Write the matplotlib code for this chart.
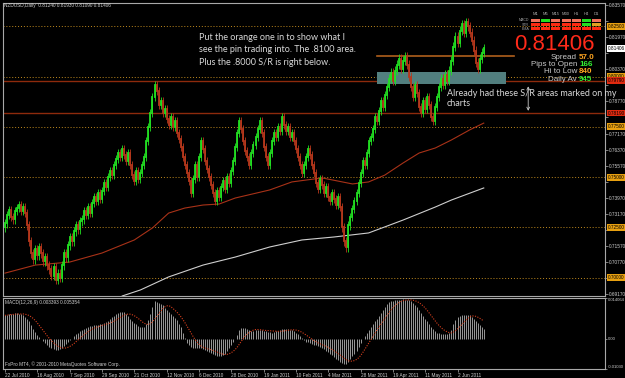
import numpy as np
import pandas as pd
import matplotlib
matplotlib.use("Agg")
import matplotlib.pyplot as plt
from matplotlib import font_manager
from matplotlib.patches import Rectangle
from matplotlib.transforms import blended_transform_factory

plt.rcParams['font.family'] = ['Liberation Sans', 'DejaVu Sans']

# ---------------- data ----------------
symbol_header = "NZDUSD,Daily  0.81240 0.81930 0.81090 0.81406"
first_open = 0.7250
closes = [
    0.7270, 0.7310, 0.7335, 0.7300, 0.7290, 0.7330, 0.7345, 0.7360, 0.7330, 0.7350, 0.7320,
    0.7260, 0.7180, 0.7120, 0.7090, 0.7140,
    0.7110, 0.7150, 0.7120, 0.7080, 0.7100,
    0.7060, 0.7040, 0.7010, 0.7050, 0.6990, 0.7020, 0.7000,
    0.7060, 0.7120, 0.7100, 0.7160, 0.7200, 0.7180, 0.7230, 0.7260, 0.7240, 0.7280,
    0.7290, 0.7330, 0.7310, 0.7350, 0.7320, 0.7370, 0.7400, 0.7380, 0.7420, 0.7390, 0.7430,
    0.7470, 0.7450, 0.7500, 0.7530, 0.7510, 0.7560, 0.7590,
    0.7620, 0.7600, 0.7640, 0.7610, 0.7580, 0.7620, 0.7560,
    0.7510, 0.7480, 0.7530, 0.7490, 0.7520, 0.7560,
    0.7600, 0.7680, 0.7750, 0.7820, 0.7900, 0.7960,
    0.7930, 0.7860, 0.7880, 0.7820, 0.7840, 0.7790, 0.7760, 0.7800, 0.7750, 0.7780, 0.7720, 0.7690,
    0.7650, 0.7600, 0.7560, 0.7520, 0.7480, 0.7420, 0.7490, 0.7560,
    0.7500, 0.7600, 0.7680, 0.7640, 0.7580, 0.7540, 0.7500, 0.7460,
    0.7420, 0.7380, 0.7430, 0.7400, 0.7450, 0.7480, 0.7440, 0.7500, 0.7470, 0.7530, 0.7580,
    0.7650, 0.7720, 0.7780, 0.7740,
    0.7680, 0.7630, 0.7600, 0.7560, 0.7620, 0.7660, 0.7700,
    0.7740, 0.7780, 0.7720, 0.7650, 0.7600, 0.7560, 0.7620, 0.7680, 0.7720, 0.7700, 0.7750, 0.7730, 0.7800,
    0.7760, 0.7730, 0.7750, 0.7700, 0.7720, 0.7680, 0.7640,
    0.7600, 0.7560, 0.7520, 0.7560, 0.7600, 0.7640, 0.7610, 0.7560,
    0.7520, 0.7470, 0.7440, 0.7490, 0.7460, 0.7420, 0.7450, 0.7400, 0.7380, 0.7420, 0.7390, 0.7360, 0.7400, 0.7350,
    0.7250, 0.7180, 0.7150, 0.7260,
    0.7300, 0.7340, 0.7380, 0.7420, 0.7470, 0.7520, 0.7580, 0.7560, 0.7620, 0.7680,
    0.7700, 0.7740, 0.7800, 0.7780, 0.7830, 0.7880, 0.7850, 0.7910,
    0.7950, 0.7990, 0.8020, 0.7980, 0.8030,
    0.8060, 0.8090, 0.8040, 0.8080, 0.8100, 0.8060, 0.8000,
    0.7950, 0.7900, 0.7960, 0.7920, 0.7850, 0.7820, 0.7880, 0.7840, 0.7900, 0.7860, 0.7800, 0.7780, 0.7850,
    0.7900, 0.7950, 0.7990, 0.7960, 0.8010, 0.7980, 0.8030,
    0.8080, 0.8150, 0.8200, 0.8170, 0.8230, 0.8260, 0.8220, 0.8270,
    0.8250, 0.8220, 0.8180, 0.8130,
    0.8070, 0.8040, 0.8090, 0.8120, 0.8141,
]

ma_slow_idx = [0, 15, 32, 48, 64, 73, 81, 89, 98, 106, 114, 131, 142, 157, 172, 180, 188, 197, 205, 213, 221, 230, 237]
ma_slow_val = [0.7022, 0.7062, 0.7077, 0.7122, 0.7187, 0.7247, 0.7321, 0.7346, 0.7361, 0.7366, 0.7396, 0.7436,
               0.7476, 0.7496, 0.7466, 0.7476, 0.7510, 0.7570, 0.7620, 0.7645, 0.7685, 0.7735, 0.7769]

ma_long_idx = [58, 67, 81, 98, 114, 131, 147, 163, 180, 188, 197, 213, 221, 237]
ma_long_val = [0.6908, 0.6938, 0.7003, 0.7062, 0.7102, 0.7152, 0.7187, 0.7202, 0.7222, 0.7252, 0.7286,
               0.7351, 0.7386, 0.7446]

macd_main = [
    0.0081, 0.0083, 0.0085, 0.0086, 0.0087, 0.0088, 0.0088, 0.0087, 0.0086, 0.0083,
    0.0075, 0.0068, 0.0060, 0.0048, 0.0035, 0.0025, 0.0015, 0.0008, 0.0000, -0.0008,
    -0.0015, -0.0021, -0.0027, -0.0032, -0.0036, -0.0038, -0.0038, -0.0036, -0.0030, -0.0024,
    -0.0017, -0.0010, -0.0004, 0.0000, 0.0010, 0.0016, 0.0022, 0.0027, 0.0030, 0.0034,
    0.0038, 0.0042, 0.0045, 0.0046, 0.0047, 0.0048, 0.0048, 0.0050, 0.0053, 0.0056,
    0.0058, 0.0063, 0.0068, 0.0074, 0.0080, 0.0085, 0.0089, 0.0092, 0.0094, 0.0093,
    0.0085, 0.0078, 0.0070, 0.0062, 0.0055, 0.0050, 0.0045, 0.0042, 0.0040, 0.0040,
    0.0050, 0.0065, 0.0085, 0.0110, 0.0131, 0.0128, 0.0125, 0.0120, 0.0115, 0.0108,
    0.0100, 0.0092, 0.0085, 0.0078, 0.0072, 0.0065, 0.0052, 0.0040, 0.0022, 0.0005,
    -0.0015, -0.0022, -0.0028, -0.0030, -0.0032, -0.0031, -0.0030, -0.0032, -0.0035, -0.0038,
    -0.0042, -0.0045, -0.0048, -0.0052, -0.0055, -0.0057, -0.0058, -0.0058, -0.0056, -0.0050,
    -0.0040, -0.0030, -0.0020, -0.0010, 0.0000, 0.0015, 0.0030, 0.0036, 0.0038, 0.0036,
    0.0033, 0.0030, 0.0028, 0.0029, 0.0030, 0.0031, 0.0032, 0.0030, 0.0028, 0.0026,
    0.0025, 0.0023, 0.0022, 0.0025, 0.0028, 0.0029, 0.0030, 0.0033, 0.0035, 0.0034,
    0.0033, 0.0032, 0.0030, 0.0026, 0.0022, 0.0016, 0.0010, 0.0003, -0.0005, -0.0009,
    -0.0012, -0.0015, -0.0018, -0.0020, -0.0022, -0.0024, -0.0026, -0.0030, -0.0035, -0.0040,
    -0.0045, -0.0050, -0.0056, -0.0062, -0.0068, -0.0073, -0.0078, -0.0082, -0.0086, -0.0087,
    -0.0080, -0.0070, -0.0060, -0.0050, -0.0040, -0.0028, -0.0015, 0.0000, 0.0010, 0.0020,
    0.0030, 0.0040, 0.0050, 0.0060, 0.0069, 0.0080, 0.0090, 0.0100, 0.0110, 0.0120,
    0.0128, 0.0130, 0.0132, 0.0133, 0.0134, 0.0135, 0.0135, 0.0136, 0.0135, 0.0134,
    0.0133, 0.0130, 0.0125, 0.0118, 0.0110, 0.0100, 0.0090, 0.0080, 0.0070, 0.0060,
    0.0050, 0.0042, 0.0035, 0.0028, 0.0022, 0.0020, 0.0018, 0.0017, 0.0017, 0.0018,
    0.0020, 0.0030, 0.0050, 0.0065, 0.0075, 0.0080, 0.0082, 0.0083, 0.0083, 0.0082,
    0.0082, 0.0076, 0.0070, 0.0062, 0.0055, 0.0048, 0.0042, 0.0034,
]
macd_header = "MACD(12,26,9) 0.003393 0.005354"

date_labels = ["22 Jul 2010", "16 Aug 2010", "7 Sep 2010", "29 Sep 2010", "21 Oct 2010",
               "12 Nov 2010", "6 Dec 2010", "28 Dec 2010", "19 Jan 2011", "10 Feb 2011",
               "4 Mar 2011", "28 Mar 2011", "19 Apr 2011", "11 May 2011", "2 Jun 2011"]
date_label_idx = [0, 16, 32, 48, 64, 80, 96, 112, 128, 144, 160, 176, 192, 208, 224]

price_ticks = [0.6917, 0.6997, 0.7077, 0.7157, 0.7237, 0.7317, 0.7397, 0.7477, 0.7557, 0.7637,
               0.7717, 0.7797, 0.7877, 0.7957, 0.8037, 0.8117, 0.8197, 0.8277, 0.8357]

dotted_levels = [0.8250, 0.8000, 0.7750, 0.7500, 0.7250, 0.7000]
red_levels = [0.7979, 0.7819]
pin_level = 0.8105
pin_span = [184, 252]
zone_low, zone_high = 0.7963, 0.8023
zone_span = [184, 248]
arrow_idx = 259
arrow_span = [0.7816, 0.7966]
current_price = 0.81406

macd_ticks = [0.014064, 0.0, -0.010302]
macd_tick_labels = ["0.014064", "0.00", "-0.01030"]

timeframes = ["M1", "M5", "M15", "M30", "H1", "H4", "D1"]
signal_rows = ["MACD", "STR", "EMA"]
signal_states = [["dn", "up", "dn", "dn", "dn", "up", "dn"],
                 ["dn", "dn", "dn", "dn", "dn", "up", "mid"],
                 ["dn", "dn", "dn", "dn", "dn", "dn", "dn"]]
stats_labels = ["Spread", "Pips to Open", "Hi to Low", "Daily Av"]
stats_values = ["57.0", "166", "840", "945"]
big_price = "0.81406"

note_lines = ["Put the orange one in to show what I",
              "see the pin trading into. The .8100 area.",
              "Plus the .8000 S/R is right below."]
note2_lines = ["Already had these S/R areas marked on my", "charts"]
copyright_text = "FxPro MT4, \u00a9 2001-2010 MetaQuotes Software Corp."

# ---------------- figure ----------------
W, H = 625, 378
fig = plt.figure(figsize=(W / 100, H / 100), dpi=100, facecolor="black")


def fx(px):
    return px / W


def fy(py):
    return 1 - py / H


L, R = 3, 605
PX_PER_BAR = 2.02
xmax = (R - L) / PX_PER_BAR - 1

ax = fig.add_axes([fx(L), fy(296), fx(R) - fx(L), fy(3) - fy(296)])
axm = fig.add_axes([fx(L), fy(369), fx(R) - fx(L), fy(298) - fy(369)])
for a in (ax, axm):
    a.set_facecolor("black")
    a.set_xlim(-1, xmax)
    for s in a.spines.values():
        s.set_color("#a8a8a8")
        s.set_linewidth(0.8)
ax.set_ylim(0.6908, 0.8367)
axm.set_ylim(-0.0103, 0.014064)

GRID_DOT = "#c08a1e"
UP_COL = "#22e022"
DN_COL = "#b8381c"
WICK = 0.0021

# levels
for lv in dotted_levels:
    ax.axhline(lv, color=GRID_DOT, lw=0.7, ls=(0, (1, 2)), zorder=1)
for lv in red_levels:
    ax.axhline(lv, color="#8e2a0c", lw=1.0, zorder=1)

# S/R zone rectangle
ax.add_patch(Rectangle((zone_span[0], zone_low), zone_span[1] - zone_span[0], zone_high - zone_low,
                       facecolor="#527f7f", edgecolor="none", zorder=1.5))
# orange pin line
ax.plot(pin_span, [pin_level, pin_level], color="#b0601c", lw=1.2, zorder=2)

# moving averages
ax.plot(ma_slow_idx, ma_slow_val, color="#a83218", lw=0.8, zorder=2)
ax.plot(ma_long_idx, ma_long_val, color="#cfcfcf", lw=0.8, zorder=2)

# price bars
c = np.array(closes)
o = np.array([first_open] + closes[:-1])
idx = np.arange(len(c))
up = c >= o
lo = np.minimum(o, c)
hi = np.maximum(o, c)
for mask, col in ((up, UP_COL), (~up, DN_COL)):
    ax.vlines(idx[mask], lo[mask] - WICK, hi[mask] + WICK, color=col, lw=0.6, zorder=3)
    ax.vlines(idx[mask], lo[mask], hi[mask], color=col, lw=1.3, zorder=3, capstyle="projecting")

# double arrow
ax.annotate("", xy=(arrow_idx, arrow_span[1]), xytext=(arrow_idx, arrow_span[0]),
            arrowprops=dict(arrowstyle="<->", color="#c8c8c8", lw=0.6, mutation_scale=5), zorder=4)

# right-axis level boxes
box_items = [(lv, "#e8a010") for lv in dotted_levels] + [(lv, "#e02a10") for lv in red_levels] \
    + [(current_price, "#ffffff")]
box_levels = [b[0] for b in box_items]

# axis ticks (labels hidden where a level box covers them, as on the terminal)
ax.set_xticks([])
ax.yaxis.tick_right()
ax.set_yticks(price_ticks)
ax.set_yticklabels([f"{v:.5f}" if min(abs(v - b) for b in box_levels) > 0.0031 else ""
                    for v in price_ticks])
ax.tick_params(axis="y", length=2, width=0.5, color="#b0b0b0", labelsize=3.4,
               labelcolor="#d0d0d0", pad=1)

tr = blended_transform_factory(ax.transAxes, ax.transData)
for lv, col in box_items:
    ax.text(1.0045, lv, f"{lv:.5f}", transform=tr, fontsize=3.4, color="black", va="center", ha="left",
            clip_on=False, zorder=10,
            bbox=dict(boxstyle="square,pad=0.2", facecolor=col, edgecolor="none"))

# MACD panel
midx = np.arange(len(macd_main))
axm.vlines(midx, 0, macd_main, color="#b0b0b0", lw=0.6, zorder=2)
signal = pd.Series(macd_main).rolling(9, min_periods=1).mean()
axm.plot(midx, signal, color="#d8401e", lw=0.8, ls=(0, (1, 1.3)), zorder=3)
axm.yaxis.tick_right()
axm.set_yticks(macd_ticks)
axm.set_yticklabels(macd_tick_labels)
axm.tick_params(axis="y", length=1.5, width=0.5, color="#b0b0b0", labelsize=3.0,
                labelcolor="#d0d0d0", pad=0.6)
for lbl, va in zip(axm.get_yticklabels(), ["top", "center", "bottom"]):
    lbl.set_va(va)
axm.set_xticks(date_label_idx)
axm.set_xticklabels(date_labels, ha="left")
axm.tick_params(axis="x", length=2, width=0.5, color="#b0b0b0", labelsize=3.4,
                labelcolor="#d0d0d0", pad=1)
axm.text(0.003, 0.93, macd_header, transform=axm.transAxes, fontsize=3.4, color="#d0d0d0",
         va="center", ha="left")
axm.text(0.003, 0.07, copyright_text, transform=axm.transAxes, fontsize=3.4, color="#d0d0d0",
         va="center", ha="left")

# header
fig.text(fx(4), fy(5), symbol_header, fontsize=3.4, color="#d0d0d0", va="center", ha="left")

# notes
note_font = ["Lato", "DejaVu Sans"]
for k, line in enumerate(note_lines):
    fig.text(fx(199), fy(37 + 12.8 * k), line, fontsize=6.5, color="#d8d8d8", va="center",
             ha="left", family=note_font)
for k, line in enumerate(note2_lines):
    fig.text(fx(447), fy(93 + 11 * k), line, fontsize=6.5, color="#d8d8d8", va="center",
             ha="left", family=note_font)

# signal grid (top right)
state_col = {"dn": "#ff2a12", "up": "#22dd22", "mid": "#e0a020"}
cell_x0, cell_w, cell_gap = 531, 9, 1.2
row_y = [18.6, 22.8, 27.0]
cell_h = 3.4
for j, tf in enumerate(timeframes):
    cx = cell_x0 + j * (cell_w + cell_gap)
    fig.text(fx(cx + cell_w / 2), fy(14), tf, fontsize=3.0, color="#b0b0b0", ha="center", va="center")
    for r in range(len(signal_rows)):
        col = state_col[signal_states[r][j]]
        if r == 0 and signal_states[r][j] == "dn":
            col = "#f0705a"
        fig.add_artist(Rectangle((fx(cx), fy(row_y[r] + cell_h)), cell_w / W, cell_h / H,
                                 transform=fig.transFigure, facecolor=col, edgecolor="none"))
for r, name in enumerate(signal_rows):
    fig.text(fx(529), fy(row_y[r] + cell_h / 2), name, fontsize=2.6, color="#a0a0a0",
             ha="right", va="center")

# big price
names = {f.name for f in font_manager.fontManager.ttflist}
if "Liberation Sans Narrow" in names:
    big_family, big_size = ["Liberation Sans Narrow", "DejaVu Sans"], 19.0
else:
    big_family, big_size = ["Liberation Sans", "DejaVu Sans"], 16.0
fig.text(fx(554), fy(44.0), big_price, fontsize=big_size, color="#ff2a1a", ha="center",
         va="center", family=big_family)

# stats
stats_colors = ["#ffa520", "#33ee33", "#ffa520", "#33ee33"]
stats_y = [57.5, 64.7, 71.9, 79.1]
for lab, val, col, yy in zip(stats_labels, stats_values, stats_colors, stats_y):
    fig.text(fx(577), fy(yy), lab, fontsize=5.8, color="#c8c8c8", ha="right", va="center")
    fig.text(fx(579), fy(yy), val, fontsize=5.8, color=col, ha="left", va="center",
             fontweight="bold")

fig.savefig("out.png", dpi=100, facecolor="black")
